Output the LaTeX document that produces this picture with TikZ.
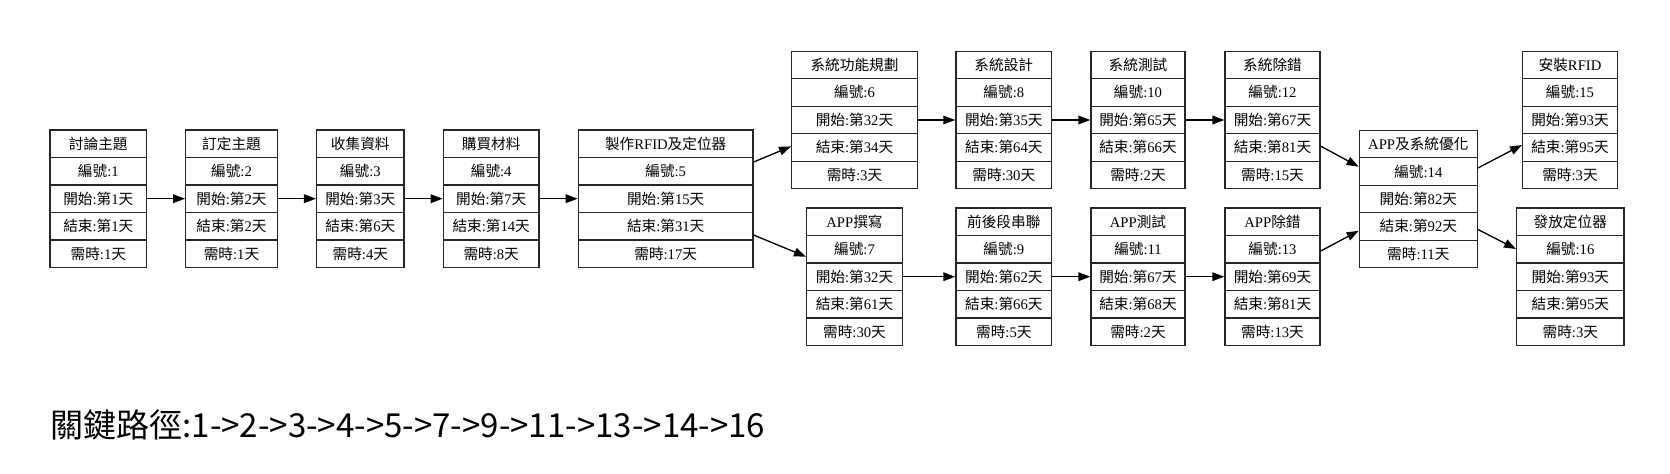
\documentclass[tikz,border=0pt]{standalone}
\usepackage{fontspec}
\usepackage{xcolor}
\usepackage{tikz}
\usetikzlibrary{shapes, arrows.meta, positioning}
\setmainfont{Liberation Serif}
\newfontfamily\cjk{Noto Sans CJK TC}

% Filas de cada tarea
\newcommand{\rowstrut}{\rule[-2.7pt]{0pt}{13.6pt}}
\newcommand{\tarea}[5]{\rowstrut{}#1%
  \nodepart{two}\rowstrut{}編號\textrm{:#2}%
  \nodepart{three}\rowstrut{}開始\textrm{:}第\textrm{#3}天%
  \nodepart{four}\rowstrut{}結束\textrm{:}第\textrm{#4}天%
  \nodepart{five}\rowstrut{}需時\textrm{:#5}天}

\tikzset{
  tareabox/.style={draw=black!85, line width=1pt, rectangle split, rectangle split parts=5,
    inner xsep=3pt, inner ysep=3pt, font=\cjk\fontsize{11}{13}\selectfont},
  flecha/.style={-{Triangle[length=9pt, width=6.5pt]}, line width=1pt}
}

\begin{document}
\begin{tikzpicture}[x=0.75pt, y=-0.75pt]
        \useasboundingbox (0,0) rectangle (1670,474);

        % Tareas iniciales
        \node[tareabox, minimum width=72.5pt] (t1) at (98.3,198.7) {\tarea{討論主題}{1}{1}{1}{1}};
        \node[tareabox, minimum width=68.7pt] (t2) at (231.5,198.7) {\tarea{訂定主題}{2}{2}{2}{1}};
        \node[tareabox, minimum width=65.5pt] (t3) at (360.3,198.7) {\tarea{收集資料}{3}{3}{6}{4}};
        \node[tareabox, minimum width=71.8pt] (t4) at (491.2,198.7) {\tarea{購買材料}{4}{7}{14}{8}};
        \node[tareabox, minimum width=131pt] (t5) at (665.7,198.7) {\tarea{製作\textrm{RFID}及定位器}{5}{15}{31}{17}};

        % Rama del sistema
        \node[tareabox, minimum width=94.2pt] (t6) at (854.5,120) {\tarea{系統功能規劃}{6}{32}{34}{3}};
        \node[tareabox, minimum width=71.8pt] (t8) at (1003.8,120) {\tarea{系統設計}{8}{35}{64}{30}};
        \node[tareabox, minimum width=70.5pt] (t10) at (1138,120) {\tarea{系統測試}{10}{65}{66}{2}};
        \node[tareabox, minimum width=71.3pt] (t12) at (1272.5,120) {\tarea{系統除錯}{12}{67}{81}{15}};

        % Rama de la APP
        \node[tareabox, minimum width=71.7pt] (t7) at (854.5,276.7) {\tarea{\textrm{APP}撰寫}{7}{32}{61}{30}};
        \node[tareabox, minimum width=71.8pt] (t9) at (1003.8,276.7) {\tarea{前後段串聯}{9}{62}{66}{5}};
        \node[tareabox, minimum width=70.5pt] (t11) at (1138,276.7) {\tarea{\textrm{APP}測試}{11}{67}{68}{2}};
        \node[tareabox, minimum width=71.3pt] (t13) at (1272.5,276.7) {\tarea{\textrm{APP}除錯}{13}{69}{81}{13}};

        % Tareas finales
        \node[tareabox, minimum width=88.5pt] (t14) at (1418.3,199) {\tarea{\textrm{APP}及系統優化}{14}{82}{92}{11}};
        \node[tareabox, minimum width=71pt] (t15) at (1570,120) {\tarea{安裝\textrm{RFID}}{15}{93}{95}{3}};
        \node[tareabox, minimum width=80.5pt] (t16) at (1570.3,276.7) {\tarea{發放定位器}{16}{93}{95}{3}};

        % Dependencias
        \draw[flecha] (t1) -- (t2);
        \draw[flecha] (t2) -- (t3);
        \draw[flecha] (t3) -- (t4);
        \draw[flecha] (t4) -- (t5);
        \draw[flecha] (t5) -- (t6);
        \draw[flecha] (t5) -- (t7);
        \draw[flecha] (t6) -- (t8);
        \draw[flecha] (t8) -- (t10);
        \draw[flecha] (t10) -- (t12);
        \draw[flecha] (t7) -- (t9);
        \draw[flecha] (t9) -- (t11);
        \draw[flecha] (t11) -- (t13);
        \draw[flecha] (t12) -- (t14);
        \draw[flecha] (t13) -- (t14);
        \draw[flecha] (t14) -- (t15);
        \draw[flecha] (t14) -- (t16);

        % Ruta critica
        \node[anchor=base west, inner sep=0pt, font=\cjk\fontsize{24.8}{28}\selectfont] (ruta) at (50,437.7) {關鍵路徑:1->2->3->4->5->7->9->11->13->14->16};
    \end{tikzpicture}
\end{document}
